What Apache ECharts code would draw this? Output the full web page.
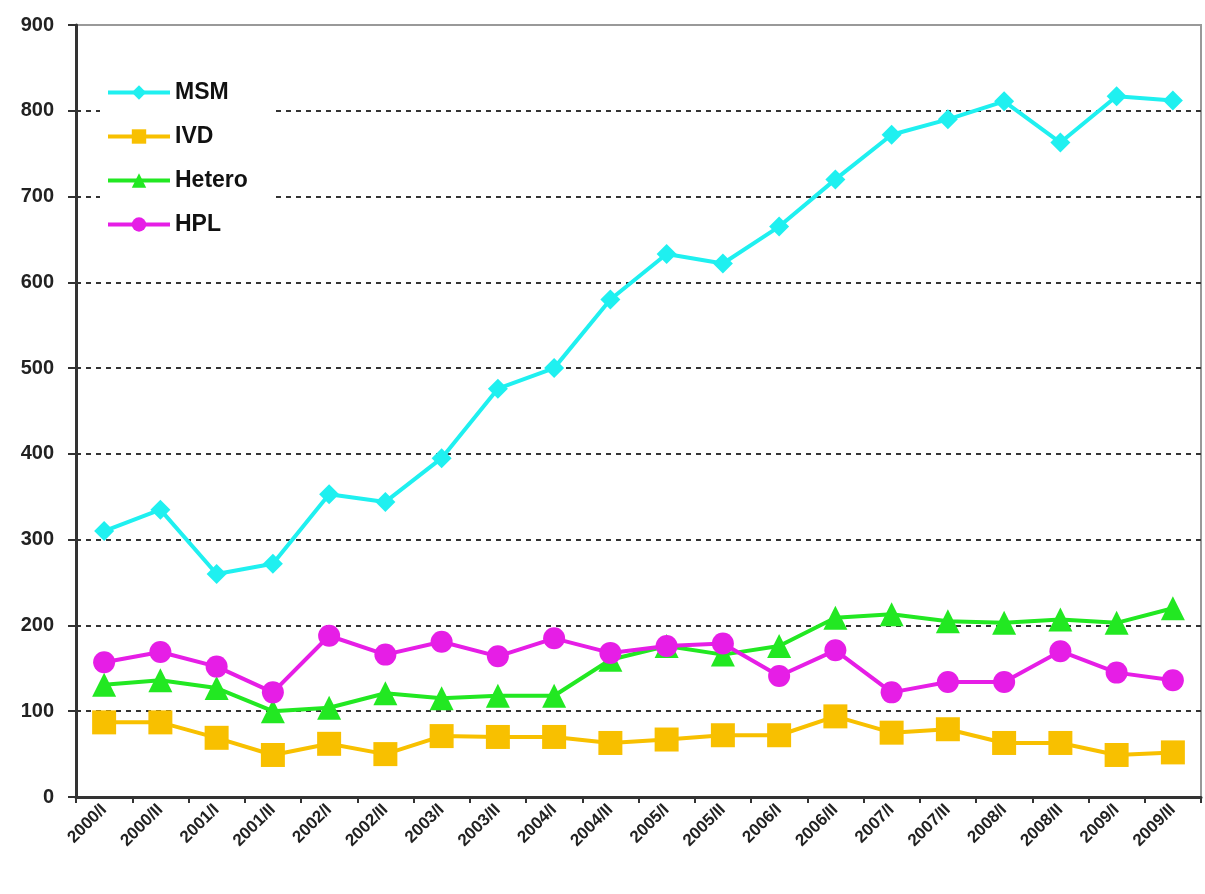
<!DOCTYPE html>
<html><head><meta charset="utf-8">
<script src="https://cdn.jsdelivr.net/npm/echarts@6/dist/echarts.min.js"></script>
<style>html,body{margin:0;padding:0;background:#fff}#c{width:1205px;height:894px}</style>
</head><body><div id="c"></div>
<script>
var categories = ['2000/I','2000/II','2001/I','2001/II','2002/I','2002/II','2003/I','2003/II','2004/I','2004/II',
  '2005/I','2005/II','2006/I','2006/II','2007/I','2007/II','2008/I','2008/II','2009/I','2009/II'];
var msm    = [310,335,260,272,353,344,395,476,500,580,633,622,665,720,772,790,811,763,817,812];
var ivd    = [87,87,69,49,62,50,71,70,70,63,67,72,72,94,75,79,63,63,49,52];
var hetero = [131,136,127,100,104,121,115,118,118,160,176,166,176,209,213,205,203,207,203,220];
var hpl    = [157,169,152,122,188,166,181,164,185,168,176,179,141,171,122,134,134,170,145,136];
var yTicks = {min:0, max:900, interval:100};

var font = '"Liberation Sans", Arial, sans-serif';
function s(name, data, color, symbol, size){
  return {name:name, type:'line', data:data, symbol:symbol, symbolSize:size,
    lineStyle:{color:color, width:4}, itemStyle:{color:color}, z: 3};
}
var chart = echarts.init(document.getElementById('c'), null, {renderer:'canvas'});
chart.setOption({
  animation:false,
  backgroundColor:'#fff',
  grid:{left:76, right:4, top:25, bottom:97, show:true, borderColor:'#999', borderWidth:2},
  legend:{
    orient:'vertical', left:100, top:73, itemGap:21, itemWidth:62, itemHeight:18,
    backgroundColor:'#fff', padding:[8,28,12,6],
    lineStyle:{width:4},
    textStyle:{fontFamily:font, fontWeight:'bold', fontSize:23, color:'#111'},
    data:['MSM','IVD','Hetero','HPL']
  },
  xAxis:{
    type:'category', data:categories, boundaryGap:true,
    axisLine:{lineStyle:{color:'#333', width:3}},
    axisTick:{show:true, interval:0, length:6, lineStyle:{color:'#333', width:2}},
    axisLabel:{interval:0, rotate:45, fontFamily:font, fontWeight:'bold', fontSize:17, color:'#222', margin:10}
  },
  yAxis:{
    type:'value', min:yTicks.min, max:yTicks.max, interval:yTicks.interval,
    axisLine:{show:true, lineStyle:{color:'#333', width:3}},
    axisTick:{show:true, length:8, lineStyle:{color:'#333', width:2}},
    axisLabel:{fontFamily:font, fontWeight:'bold', fontSize:20, color:'#222', margin:22},
    splitLine:{show:true, showMaxLine:false, lineStyle:{color:'#333', width:2, type:[5,5]}}
  },
  series:[
    s('MSM', msm, '#1ff0f0', 'diamond', 20),
    s('IVD', ivd, '#f8c000', 'rect', 24),
    s('Hetero', hetero, '#22e822', 'triangle', 24),
    s('HPL', hpl, '#e61ee6', 'circle', 22)
  ]
});
</script></body></html>
